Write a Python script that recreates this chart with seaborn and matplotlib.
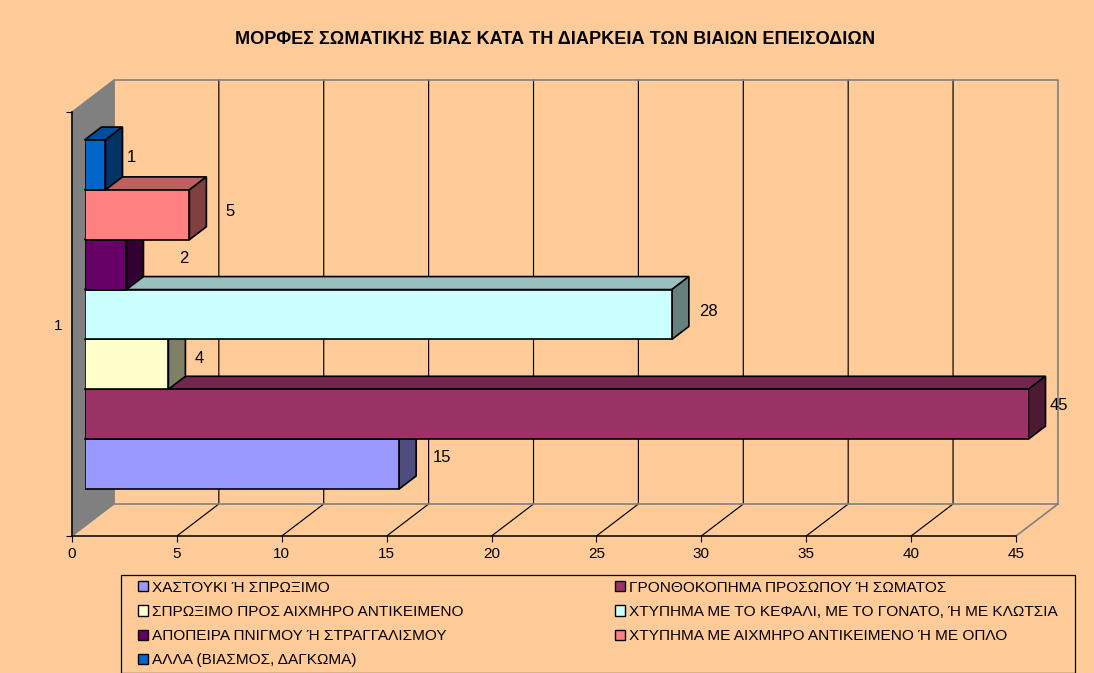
import matplotlib
matplotlib.use("Agg")
import matplotlib.pyplot as plt
import pandas as pd
import seaborn as sns
from matplotlib.colors import to_rgb
from matplotlib.patches import Patch, Polygon, Rectangle

TITLE = "ΜΟΡΦΕΣ ΣΩΜΑΤΙΚΗΣ ΒΙΑΣ ΚΑΤΑ ΤΗ ΔΙΑΡΚΕΙΑ ΤΩΝ ΒΙΑΙΩΝ ΕΠΕΙΣΟΔΙΩΝ"
labels = [
    "ΧΑΣΤΟΥΚΙ Ή ΣΠΡΩΞΙΜΟ",
    "ΓΡΟΝΘΟΚΟΠΗΜΑ ΠΡΟΣΩΠΟΥ Ή ΣΩΜΑΤΟΣ",
    "ΣΠΡΩΞΙΜΟ ΠΡΟΣ ΑΙΧΜΗΡΟ ΑΝΤΙΚΕΙΜΕΝΟ",
    "ΧΤΥΠΗΜΑ ΜΕ ΤΟ ΚΕΦΑΛΙ, ΜΕ ΤΟ ΓΟΝΑΤΟ, Ή ΜΕ ΚΛΩΤΣΙΑ",
    "ΑΠΟΠΕΙΡΑ ΠΝΙΓΜΟΥ Ή ΣΤΡΑΓΓΑΛΙΣΜΟΥ",
    "ΧΤΥΠΗΜΑ ΜΕ ΑΙΧΜΗΡΟ ΑΝΤΙΚΕΙΜΕΝΟ Ή ΜΕ ΟΠΛΟ",
    "ΑΛΛΑ (ΒΙΑΣΜΟΣ, ΔΑΓΚΩΜΑ)",
]
values = [15, 45, 4, 28, 2, 5, 1]
colors = ["#9999FF", "#993366", "#FFFFCC", "#CCFFFF", "#660066", "#FF8080", "#0066CC"]
x_ticks = [0, 5, 10, 15, 20, 25, 30, 35, 40, 45]

# excel leaves the value labels at uneven distances from the bars (pixels)
label_dx = [43, 30, 31, 37, 57, 41, 26]
label_dy = [7, 9, 6, 3, 6, 3, 7]

BG = "#FFCC99"
GREY = "#808080"
W, H = 1094, 673
FONT = 10.95
LEGEND_FONT = 11.08
LABEL_FONT = 12


def px_axes(fig, left, top, right, bottom):
    return fig.add_axes([left / W, 1 - bottom / H, (right - left) / W, (bottom - top) / H])


def shade(color, k):
    return tuple(c * k for c in to_rgb(color))


plt.rcParams["font.family"] = ["Liberation Sans", "DejaVu Sans"]
fig = plt.figure(figsize=(W / 100, H / 100), dpi=100, facecolor=BG)

# front plane of the box, carries the ticks
ax = px_axes(fig, 72, 112, 1016, 536)
ax.set_facecolor("none")
ax.set_xlim(0, 45)
ax.set_ylim(0, 1)
ax.spines[["top", "right"]].set_visible(False)
for s in ["left", "bottom"]:
    ax.spines[s].set_linewidth(1.1)
ax.set_xticks(x_ticks)
ax.set_yticks([0, 1], labels=["", ""])
ax.set_yticks([0.5], labels=["1"], minor=True)
ax.tick_params(axis="both", which="major", length=4.3, width=0.8, labelsize=FONT, pad=3.5)
ax.tick_params(axis="y", which="minor", length=0, labelsize=FONT, pad=7)

# walls and grid, pushed back by the box depth
dx, dy = 2.0, 32 / 424
wall = Polygon([(0, 0), (dx, dy), (dx, 1 + dy), (0, 1)], closed=True,
               facecolor=GREY, edgecolor=GREY, clip_on=False, zorder=1)
ax.add_patch(wall)
for v in x_ticks[1:-1]:
    ax.plot([v, v + dx, v + dx], [0, dy, 1 + dy], color="black", lw=0.85, clip_on=False, zorder=1)
ax.plot([45, 45 + dx, 45 + dx, dx, dx, 45 + dx], [0, dy, 1 + dy, 1 + dy, dy, dy],
        color=GREY, lw=1.2, clip_on=False, zorder=1.5)

# plane of the bar fronts
bar_ax = px_axes(fig, 84.5, 102.5, 1028.5, 526.5)
df = pd.DataFrame({"group": ["1"] * len(values), "kind": labels, "count": values})
sns.barplot(data=df, x="count", y="group", hue="kind", hue_order=labels, palette=colors,
            orient="h", width=0.823, saturation=1, edgecolor="black", linewidth=1.2,
            legend=False, ax=bar_ax)
bar_ax.set_xlim(0, 45)
bar_ax.set_ylim(-0.5, 0.5)
bar_ax.axis("off")

# top and side faces; lower bars first so the upper ones sit on top of them
ddx, ddy = 17 / 944 * 45, 13 / 424
for i, container in enumerate(bar_ax.containers):
    bar = container[0]
    y0, y1 = bar.get_y(), bar.get_y() + bar.get_height()
    y0, y1 = min(y0, y1), max(y0, y1)
    x1 = values[i]
    top = Polygon([(0, y1), (x1, y1), (x1 + ddx, y1 + ddy), (ddx, y1 + ddy)], closed=True,
                  facecolor=shade(colors[i], 0.75), edgecolor="black", lw=1.2, clip_on=False, zorder=3 + i)
    side = Polygon([(x1, y0), (x1 + ddx, y0 + ddy), (x1 + ddx, y1 + ddy), (x1, y1)], closed=True,
                   facecolor=shade(colors[i], 0.5), edgecolor="black", lw=1.2, clip_on=False, zorder=3 + i)
    bar_ax.add_patch(top)
    bar_ax.add_patch(side)
    bar.set_zorder(3.5 + i)
    bar_ax.annotate(str(values[i]), (x1, (y0 + y1) / 2), xytext=(label_dx[i], label_dy[i]),
                    textcoords="offset pixels", ha="center", va="center", fontsize=LABEL_FONT,
                    annotation_clip=False, zorder=20)

fig.text(555.5 / W, 1 - 39.5 / H, TITLE, ha="center", va="center", fontsize=13.05, fontweight="bold")

# legend frame is separate because its side padding is wider than the top and bottom
fig.add_artist(Rectangle((121 / W, 1 - 672.5 / H), 954 / W, 98 / H, transform=fig.transFigure,
                         facecolor="none", edgecolor="black", lw=0.9))

# columns are filled first in matplotlib, so reorder to read across the rows
order = [0, 2, 4, 6, 1, 3, 5]
handles = [Patch(facecolor=colors[i], edgecolor="black", lw=1, label=labels[i]) for i in order]
fig.legend(handles=handles, ncols=2, loc="upper left",
           bbox_to_anchor=(138 / W, 1 - 580.5 / H), borderaxespad=0, borderpad=0,
           fontsize=LEGEND_FONT, frameon=False, handlelength=0.65, handleheight=0.65,
           handletextpad=0.26, columnspacing=9.85, labelspacing=0.67)

fig.savefig("out.png", dpi=100, facecolor=BG)
